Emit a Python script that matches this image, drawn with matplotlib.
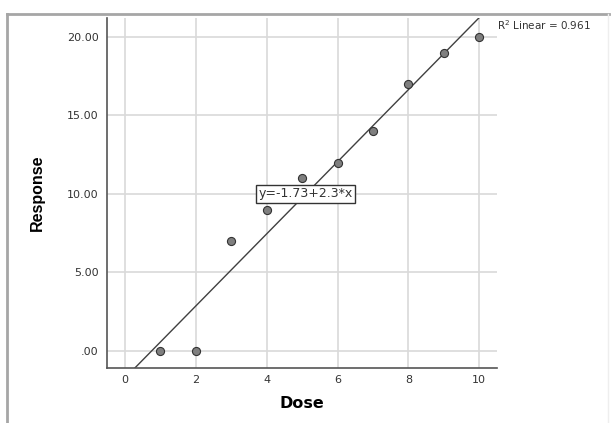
import numpy as np
import matplotlib.pyplot as plt
from matplotlib.lines import Line2D

# Dados
dose = [1, 2, 3, 4, 5, 6, 7, 8, 9, 10]
response = [0, 0, 7, 9, 11, 12, 14, 17, 19, 20]
x_ticks = [0, 2, 4, 6, 8, 10]
y_ticks = [0, 5, 10, 15, 20]
y_tick_labels = [".00", "5.00", "10.00", "15.00", "20.00"]

# Ajuste linear
slope, intercept = np.polyfit(dose, response, 1)
r2 = np.corrcoef(dose, response)[0, 1] ** 2

fig = plt.figure(figsize=(6.15, 4.23), dpi=100)
ax = fig.add_axes([0.174, 0.130, 0.634, 0.827])

ax.set_xlim(-0.51, 10.5)
ax.set_ylim(-1.1, 21.2)

ax.grid(True, color='#d9d9d9', linewidth=1.2)
ax.set_axisbelow(True)

xs = np.array([-1, 12])
ax.plot(xs, intercept + slope * xs, color='#404040', linewidth=1)

ax.scatter(dose, response, s=34, color='#7f7f7f', edgecolor='#333333', linewidth=0.8, zorder=3)

ax.text(5.1, 10.0, f"y={intercept:.2f}+{slope:.1f}*x", fontsize=9, ha='center', va='center',
        color='#333333', family='DejaVu Sans',
        bbox=dict(boxstyle='square,pad=0.2', facecolor='white', edgecolor='#333333', linewidth=1))

ax.set_xticks(x_ticks)
ax.set_yticks(y_ticks)
ax.set_yticklabels(y_tick_labels)
ax.tick_params(length=0, labelsize=8, colors='#333333')
ax.tick_params(axis='x', pad=5)
ax.tick_params(axis='y', pad=6)

for s in ['top', 'right']:
    ax.spines[s].set_visible(False)
for s in ['left', 'bottom']:
    ax.spines[s].set_color('#555555')
    ax.spines[s].set_linewidth(1.2)

ax.set_xlabel("Dose", fontsize=11.5, fontweight='bold', family='DejaVu Sans', labelpad=8)
ax.set_ylabel("Response", fontsize=11.5, fontweight='bold', family='Liberation Sans', labelpad=16)

fig.text(0.808, 0.929, f"R$^2$ Linear = {r2:.3f}", fontsize=7.5, color='#333333', family='DejaVu Sans')

# Moldura
fig.add_artist(Line2D([0.0114, 0.99], [0.967, 0.967], color='#a6a6a6', linewidth=2))
fig.add_artist(Line2D([0.0114, 0.0114], [0.0, 0.967], color='#a6a6a6', linewidth=2))
fig.add_artist(Line2D([0.988, 0.988], [0.0, 0.967], color='#eeeeee', linewidth=1))

fig.savefig("out.png", dpi=100)
